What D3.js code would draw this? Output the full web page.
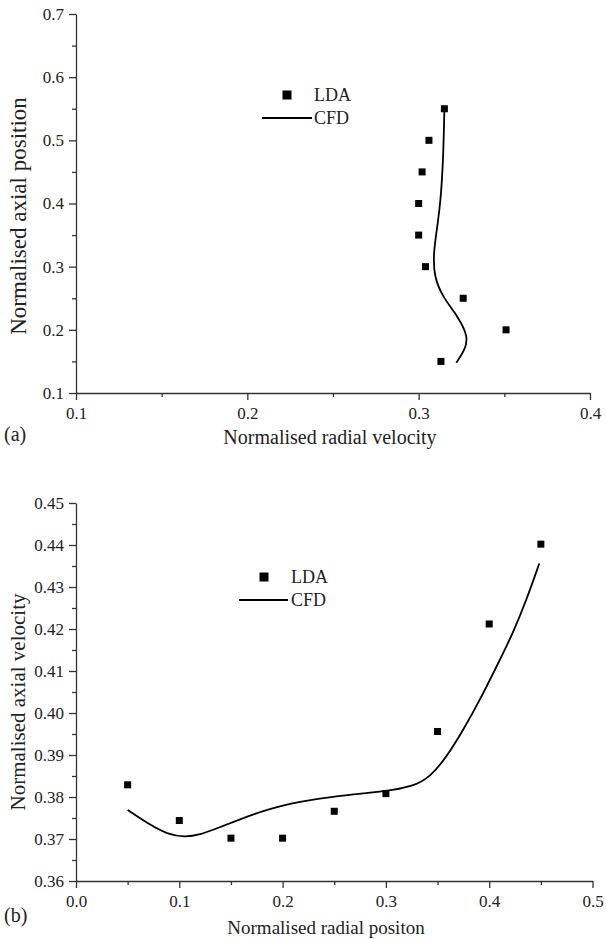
<!DOCTYPE html>
<html>
<head>
<meta charset="utf-8">
<script src="https://cdn.jsdelivr.net/npm/d3@7"></script>
<style>
  body { margin: 0; background: #fff; }
  svg { display: block; }
  .label { font-family: "Liberation Serif", "Times New Roman", serif; fill: #222; }
  .legend { font-family: "Liberation Serif", "Times New Roman", serif; font-size: 18px; fill: #222; }
  .tick text { font-family: "Liberation Serif", "Times New Roman", serif !important; font-size: 17px !important; fill: #222; }
</style>
</head>
<body>
<svg id="chart" width="606" height="939"></svg>
<script>
// (a) radial velocity vs axial position
const topLdaX = [0.313, 0.351, 0.326, 0.304, 0.300, 0.300, 0.302, 0.306, 0.315];
const topLdaY = [0.15, 0.20, 0.25, 0.30, 0.35, 0.40, 0.45, 0.50, 0.55];
const topCfdX = [0.322, 0.327, 0.329, 0.323, 0.314, 0.309, 0.3086, 0.3106, 0.3129, 0.3144, 0.315];
const topCfdY = [0.148, 0.168, 0.189, 0.221, 0.252, 0.284, 0.321, 0.358, 0.405, 0.474, 0.55];
const topXTicks = [0.1, 0.2, 0.3, 0.4];
const topYTicks = [0.1, 0.2, 0.3, 0.4, 0.5, 0.6, 0.7];

// (b) radial position vs axial velocity
const botLdaX = [0.05, 0.10, 0.15, 0.20, 0.25, 0.30, 0.35, 0.40, 0.45];
const botLdaY = [0.3829, 0.3744, 0.3702, 0.3702, 0.3766, 0.3808, 0.3956, 0.4212, 0.4402];
const botCfdX = [0.05, 0.072, 0.088, 0.105, 0.12, 0.136, 0.159, 0.185, 0.217, 0.249, 0.2995, 0.3265, 0.343, 0.359, 0.375, 0.391, 0.407, 0.423, 0.436, 0.4485];
const botCfdY = [0.3769, 0.3733, 0.3712, 0.3704, 0.3710, 0.3725, 0.3747, 0.3771, 0.3789, 0.3802, 0.3813, 0.3825, 0.3848, 0.3896, 0.3960, 0.4031, 0.4110, 0.4190, 0.4269, 0.4356];
const botXTicks = [0.0, 0.1, 0.2, 0.3, 0.4, 0.5];
const botYTicks = [0.36, 0.37, 0.38, 0.39, 0.40, 0.41, 0.42, 0.43, 0.44, 0.45];

const svg = d3.select("#chart");
const axisColor = "#333";

function drawPanel(opt) {
    const g = svg.append("g");
    const x = d3.scaleLinear().domain(opt.xDomain).range(opt.xRange);
    const y = d3.scaleLinear().domain(opt.yDomain).range(opt.yRange);

    // minor ticks first
    g.append("g")
        .attr("transform", "translate(0," + opt.yRange[0] + ")")
        .call(d3.axisBottom(x).tickValues(opt.xMinor).tickSize(4).tickFormat(""))
        .call(a => a.select(".domain").remove());
    g.append("g")
        .attr("transform", "translate(" + opt.xRange[0] + ",0)")
        .call(d3.axisLeft(y).tickValues(opt.yMinor).tickSize(4).tickFormat(""))
        .call(a => a.select(".domain").remove());

    g.append("g")
        .attr("transform", "translate(0," + opt.yRange[0] + ")")
        .call(d3.axisBottom(x).tickValues(opt.xTicks).tickSize(7).tickPadding(7).tickSizeOuter(0).tickFormat(opt.xFmt));
    g.append("g")
        .attr("transform", "translate(" + opt.xRange[0] + ",0)")
        .call(d3.axisLeft(y).tickValues(opt.yTicks).tickSize(7).tickPadding(5).tickSizeOuter(0).tickFormat(opt.yFmt));
    g.selectAll(".domain, .tick line").attr("stroke", axisColor).attr("stroke-width", 1.3);

    // CFD line
    const pts = opt.cfdX.map((v, i) => [v, opt.cfdY[i]]);
    g.append("path")
        .datum(pts)
        .attr("fill", "none")
        .attr("stroke", "#000")
        .attr("stroke-width", 1.8)
        .attr("d", d3.line().x(d => x(d[0])).y(d => y(d[1])).curve(d3.curveBasis));

    // LDA squares
    const s = 7;
    g.selectAll("rect.lda")
        .data(opt.ldaX.map((v, i) => [v, opt.ldaY[i]]))
        .enter()
        .append("rect")
        .attr("class", "lda")
        .attr("x", d => x(d[0]) - s / 2)
        .attr("y", d => y(d[1]) - s / 2)
        .attr("width", s)
        .attr("height", s)
        .attr("fill", "#000");

    // legend
    const L = opt.legend;
    g.append("rect").attr("x", L.mx - 4.5).attr("y", L.my - 4.5).attr("width", 9).attr("height", 9).attr("fill", "#000");
    g.append("text").attr("class", "legend").attr("x", L.tx).attr("y", L.my + 6).text("LDA");
    g.append("line").attr("x1", L.lx1).attr("x2", L.lx2).attr("y1", L.ly).attr("y2", L.ly)
        .attr("stroke", "#000").attr("stroke-width", 1.8);
    g.append("text").attr("class", "legend").attr("x", L.tx).attr("y", L.ly + 6).text("CFD");

    // titles
    g.append("text").attr("class", "label")
        .attr("x", opt.xTitleX)
        .attr("y", opt.xTitleY)
        .attr("text-anchor", "middle")
        .style("font-size", opt.xTitleSize + "px")
        .text(opt.xTitle);
    g.append("text").attr("class", "label")
        .attr("transform", "translate(" + opt.yTitleX + "," + opt.yTitleY + ") rotate(-90)")
        .attr("text-anchor", "middle")
        .style("font-size", opt.yTitleSize + "px")
        .text(opt.yTitle);
    g.append("text").attr("class", "label")
        .attr("x", 4)
        .attr("y", opt.tagY)
        .style("font-size", "20px")
        .text(opt.tag);
}

drawPanel({
    xDomain: [0.1, 0.4], xRange: [76, 590],
    yDomain: [0.1, 0.7], yRange: [393, 14],
    xTicks: topXTicks, yTicks: topYTicks,
    xMinor: [0.15, 0.25, 0.35], yMinor: [0.15, 0.25, 0.35, 0.45, 0.55, 0.65],
    xFmt: d3.format(".1f"), yFmt: d3.format(".1f"),
    ldaX: topLdaX, ldaY: topLdaY, cfdX: topCfdX, cfdY: topCfdY,
    legend: {mx: 287, my: 95, tx: 314, lx1: 262, lx2: 312, ly: 118},
    xTitle: "Normalised radial velocity", xTitleX: 330, xTitleY: 444, xTitleSize: 20,
    yTitle: "Normalised axial position", yTitleX: 26, yTitleY: 216, yTitleSize: 23,
    tag: "(a)", tagY: 441
});

drawPanel({
    xDomain: [0, 0.5], xRange: [76, 592.5],
    yDomain: [0.36, 0.45], yRange: [881, 503],
    xTicks: botXTicks, yTicks: botYTicks,
    xMinor: [0.05, 0.15, 0.25, 0.35, 0.45],
    yMinor: [0.365, 0.375, 0.385, 0.395, 0.405, 0.415, 0.425, 0.435, 0.445],
    xFmt: d3.format(".1f"), yFmt: d3.format(".2f"),
    ldaX: botLdaX, ldaY: botLdaY, cfdX: botCfdX, cfdY: botCfdY,
    legend: {mx: 264, my: 577, tx: 291, lx1: 239, lx2: 288, ly: 600},
    xTitle: "Normalised radial positon", xTitleX: 326, xTitleY: 934, xTitleSize: 19,
    yTitle: "Normalised axial velocity", yTitleX: 25, yTitleY: 702, yTitleSize: 21,
    tag: "(b)", tagY: 922
});
</script>
</body>
</html>
